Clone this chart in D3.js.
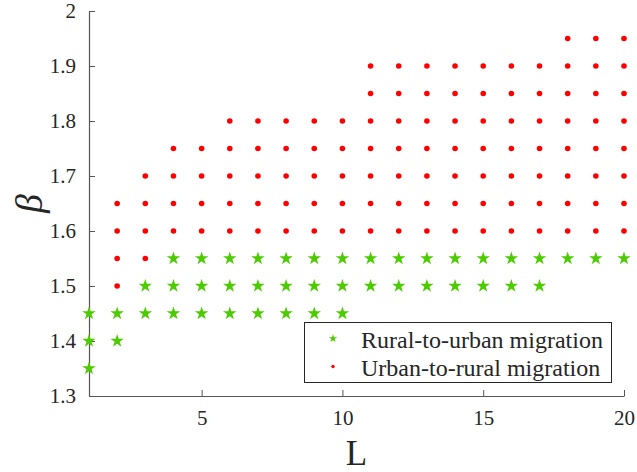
<!DOCTYPE html>
<html>
<head>
<meta charset="utf-8">
<script src="https://cdn.jsdelivr.net/npm/d3@7"></script>
<style>
  body { margin: 0; background: #fff; }
  svg { display: block; }
</style>
</head>
<body>
<svg id="chart" width="637" height="472"></svg>
<script>
// Rural-to-urban migration regions: beta values for each L
const ruralL    = [1, 1, 1, 2, 2, 3, 3,
                   4, 4, 4, 5, 5, 5, 6, 6, 6, 7, 7, 7, 8, 8, 8, 9, 9, 9, 10, 10, 10,
                   11, 11, 12, 12, 13, 13, 14, 14, 15, 15, 16, 16, 17, 17,
                   18, 19, 20];
const ruralBeta = [1.35, 1.4, 1.45, 1.4, 1.45, 1.45, 1.5,
                   1.45, 1.5, 1.55, 1.45, 1.5, 1.55, 1.45, 1.5, 1.55, 1.45, 1.5, 1.55,
                   1.45, 1.5, 1.55, 1.45, 1.5, 1.55, 1.45, 1.5, 1.55,
                   1.5, 1.55, 1.5, 1.55, 1.5, 1.55, 1.5, 1.55, 1.5, 1.55, 1.5, 1.55, 1.5, 1.55,
                   1.55, 1.55, 1.55];

// Urban-to-rural migration: for each L, beta runs from a lower to an upper bound in 0.05 steps
const urbanL     = [2, 3, 4, 5, 6, 7, 8, 9, 10, 11, 12, 13, 14, 15, 16, 17, 18, 19, 20];
const urbanLow   = [1.5, 1.55, 1.6, 1.6, 1.6, 1.6, 1.6, 1.6, 1.6, 1.6, 1.6, 1.6, 1.6, 1.6, 1.6, 1.6, 1.6, 1.6, 1.6];
const urbanHigh  = [1.65, 1.7, 1.75, 1.75, 1.8, 1.8, 1.8, 1.8, 1.8, 1.9, 1.9, 1.9, 1.9, 1.9, 1.9, 1.9, 1.95, 1.95, 1.95];

const xTicks = [5, 10, 15, 20];
const yTicks = [1.3, 1.4, 1.5, 1.6, 1.7, 1.8, 1.9, 2];
const seriesNames = ["Rural-to-urban migration", "Urban-to-rural migration"];

const FONT = "font-family: 'Liberation Serif', Tinos, 'Times New Roman', Times, 'Nimbus Roman', 'Nimbus Roman No9 L', FreeSerif, 'DejaVu Serif', 'Noto Serif', serif";

const urbanPts = [];
urbanL.forEach((L, i) => {
  const n = Math.round((urbanHigh[i] - urbanLow[i]) / 0.05);
  for (let k = 0; k <= n; k++) urbanPts.push({ L: L, b: +(urbanLow[i] + k * 0.05).toFixed(2) });
});
const ruralPts = ruralL.map((L, i) => ({ L: L, b: ruralBeta[i] }));

const svg = d3.select("#chart");
const margin = { left: 89, right: 13, top: 11, bottom: 76 };
const W = 637, H = 472;
const x = d3.scaleLinear().domain([1, 20]).range([margin.left, W - margin.right]);
const y = d3.scaleLinear().domain([1.3, 2]).range([H - margin.bottom, margin.top]);

const green = "#4ccc00", red = "#ff0000", axisCol = "#555", textCol = "#262626";

// axes (inward ticks, left and bottom only)
const gx = svg.append("g").attr("transform", `translate(0,${y(1.3)})`)
  .call(d3.axisBottom(x).tickValues(xTicks).tickSizeInner(-6).tickSizeOuter(0).tickPadding(14).tickFormat(d3.format("d")));
const gy = svg.append("g").attr("transform", `translate(${x(1)},0)`)
  .call(d3.axisLeft(y).tickValues(yTicks).tickSizeInner(-6).tickSizeOuter(0).tickPadding(13).tickFormat(d => d === 2 ? "2" : d3.format(".1f")(d)));
[gx, gy].forEach(g => {
  g.attr("font-family", null);
  g.select(".domain").attr("stroke", axisCol).attr("stroke-width", 1.2);
  g.selectAll(".tick line").attr("stroke", axisCol).attr("stroke-width", 1);
  g.selectAll(".tick text").attr("style", FONT).attr("font-size", 21).attr("fill", textCol);
});

// axis labels
svg.append("text").attr("style", FONT).attr("fill", textCol)
  .attr("x", (x(1) + x(20)) / 2).attr("y", 464.5)
  .attr("text-anchor", "middle").attr("font-size", 35).text("L");
svg.append("text").attr("style", FONT).attr("fill", textCol)
  .attr("transform", `translate(42,${(y(1.3) + y(2)) / 2}) rotate(-90)`)
  .attr("text-anchor", "middle").attr("font-size", 38).attr("font-style", "italic").text("β");

// markers
const star = d3.symbol().type(d3.symbolStar).size(56)();
svg.append("g").selectAll("path").data(ruralPts).join("path")
  .attr("d", star).attr("fill", green)
  .attr("transform", d => `translate(${x(d.L)},${y(d.b)})`);
svg.append("g").selectAll("circle").data(urbanPts).join("circle")
  .attr("cx", d => x(d.L)).attr("cy", d => y(d.b)).attr("r", 2.8).attr("fill", red);

// legend
const lg = svg.append("g");
lg.append("rect").attr("x", 304.5).attr("y", 322.5).attr("width", 307).attr("height", 60)
  .attr("fill", "#fff").attr("stroke", textCol).attr("stroke-width", 1);
lg.append("path").attr("d", d3.symbol().type(d3.symbolStar).size(22)()).attr("fill", green)
  .attr("transform", "translate(333,338.5)");
lg.append("circle").attr("cx", 333).attr("cy", 366.5).attr("r", 1.7).attr("fill", red);
lg.selectAll("text.lab").data(seriesNames).join("text").attr("class", "lab")
  .attr("style", FONT).attr("fill", textCol)
  .attr("x", 361).attr("y", (d, i) => 347.5 + i * 28.5).attr("font-size", 24).text(d => d);
</script>
</body>
</html>
